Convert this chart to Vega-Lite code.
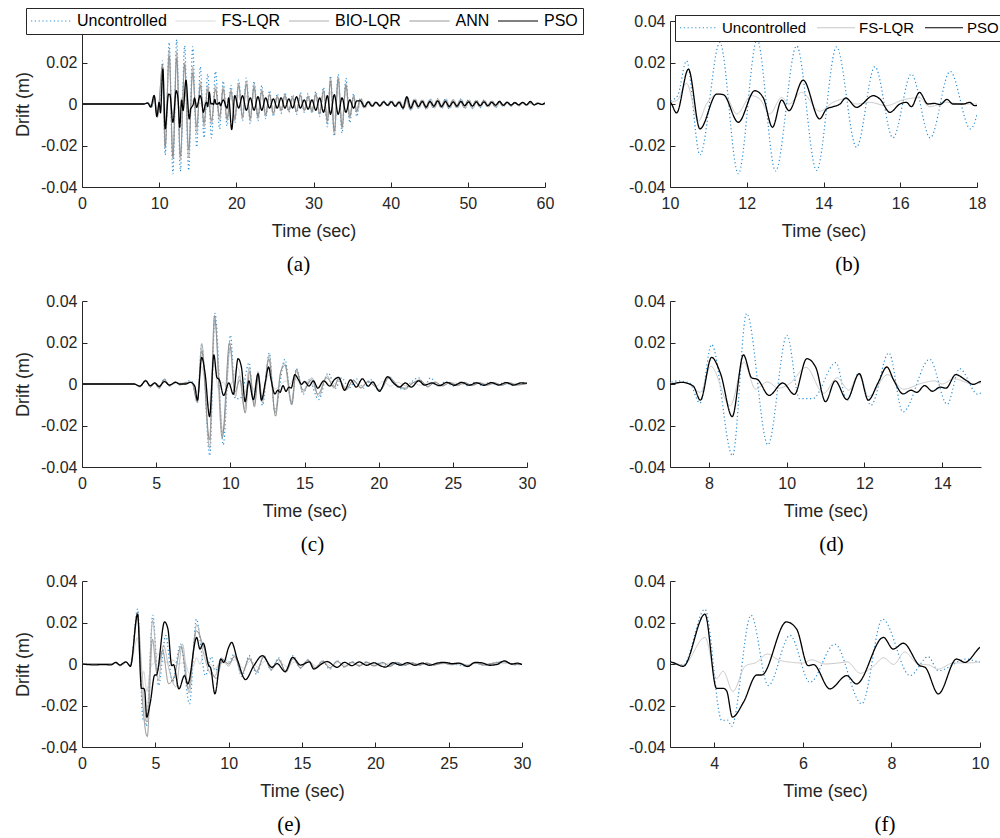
{
"$schema":"https://vega.github.io/schema/vega-lite/v6.json",
"background":"#ffffff",
"padding":{"left":14,"top":7,"right":2,"bottom":2},
"config":{
"view":{"stroke":null},
"font":"Liberation Sans",
"axis":{"grid":false,"domainColor":"#262626","tickColor":"#262626","labelColor":"#262626","titleColor":"#262626","labelFontSize":16,"titleFontSize":18,"titleFontWeight":"normal","tickSize":-5,"labelFont":"Liberation Sans","titleFont":"Liberation Sans","labelFlush":false,"labelOverlap":false},
"axisX":{"labelPadding":13,"titlePadding":11},
"axisY":{"labelPadding":10,"titlePadding":8},
"title":{"orient":"bottom","frame":"group","anchor":"middle","font":"Liberation Serif","fontSize":21,"fontWeight":"normal","color":"#000000","offset":14},
"line":{"interpolate":"monotone","strokeWidth":1},
"legend":{"labelFont":"Liberation Sans"}
},
"datasets":{
"a":[
{"s":"U","t":0,"d":0},{"s":"U","t":8,"d":0},{"s":"U","t":8.6,"d":0.0005},{"s":"U","t":9,"d":-0.0015},{"s":"U","t":9.4,"d":0.003},{"s":"U","t":9.75,"d":-0.006},{"s":"U","t":10,"d":0.001},{"s":"U","t":10.2,"d":0.004},{"s":"U","t":10.43,"d":0.0208},{"s":"U","t":10.78,"d":-0.0245},{"s":"U","t":11.3,"d":0.0296},{"s":"U","t":11.78,"d":-0.0336},{"s":"U","t":12.27,"d":0.031},{"s":"U","t":12.75,"d":-0.0323},{"s":"U","t":13.3,"d":0.028},{"s":"U","t":13.82,"d":-0.032},{"s":"U","t":14.34,"d":0.0275},{"s":"U","t":14.86,"d":-0.0208},{"s":"U","t":15.34,"d":0.018},{"s":"U","t":15.81,"d":-0.0163},{"s":"U","t":16.29,"d":0.0144},{"s":"U","t":16.78,"d":-0.0163},{"s":"U","t":17.3,"d":0.0157},{"s":"U","t":17.83,"d":-0.012},{"s":"U","t":18.3,"d":0.011},{"s":"U","t":18.8,"d":-0.0105},{"s":"U","t":19.3,"d":0.009},{"s":"U","t":19.8,"d":-0.009},{"s":"U","t":20.3,"d":0.0115},{"s":"U","t":20.8,"d":-0.008},{"s":"U","t":21.3,"d":0.0125},{"s":"U","t":21.8,"d":-0.0095},{"s":"U","t":22.3,"d":0.011},{"s":"U","t":22.8,"d":-0.008},{"s":"U","t":23.3,"d":0.009},{"s":"U","t":23.8,"d":-0.007},{"s":"U","t":24.3,"d":0.0065},{"s":"U","t":24.8,"d":-0.006},{"s":"U","t":25.3,"d":0.005},{"s":"U","t":25.8,"d":-0.0045},{"s":"U","t":26.3,"d":0.0055},{"s":"U","t":26.8,"d":-0.004},{"s":"U","t":27.3,"d":0.0045},{"s":"U","t":27.8,"d":-0.005},{"s":"U","t":28.3,"d":0.0055},{"s":"U","t":28.8,"d":-0.004},{"s":"U","t":29.3,"d":0.005},{"s":"U","t":29.8,"d":-0.0045},{"s":"U","t":30.3,"d":0.006},{"s":"U","t":30.8,"d":-0.006},{"s":"U","t":31.3,"d":0.008},{"s":"U","t":31.8,"d":-0.011},{"s":"U","t":32.2,"d":0.0135},{"s":"U","t":32.7,"d":-0.0155},{"s":"U","t":33.2,"d":0.0143},{"s":"U","t":33.7,"d":-0.014},{"s":"U","t":34.2,"d":0.0125},{"s":"U","t":34.7,"d":-0.009},{"s":"U","t":35.2,"d":0.005},{"s":"U","t":35.6,"d":-0.006},
{"s":"U","t":36.1,"d":0.003},{"s":"U","t":36.6,"d":-0.002},{"s":"U","t":37.1,"d":0.0015},{"s":"U","t":37.6,"d":-0.0015},{"s":"U","t":38.1,"d":0.0012},{"s":"U","t":38.6,"d":-0.0012},{"s":"U","t":39.1,"d":0.0015},{"s":"U","t":39.6,"d":-0.001},{"s":"U","t":40.1,"d":0.0018},{"s":"U","t":40.6,"d":-0.0015},{"s":"U","t":41.1,"d":0.0015},{"s":"U","t":41.6,"d":-0.0025},{"s":"U","t":42.1,"d":0.0035},{"s":"U","t":42.6,"d":-0.003},{"s":"U","t":43.1,"d":0.0025},{"s":"U","t":43.6,"d":-0.002},{"s":"U","t":44.1,"d":0.002},{"s":"U","t":44.6,"d":-0.0025},{"s":"U","t":45.1,"d":0.002},{"s":"U","t":45.6,"d":-0.002},{"s":"U","t":46.1,"d":0.0025},{"s":"U","t":46.6,"d":-0.002},{"s":"U","t":47.1,"d":0.0025},{"s":"U","t":47.6,"d":-0.0025},{"s":"U","t":48.1,"d":0.002},{"s":"U","t":48.6,"d":-0.002},{"s":"U","t":49.1,"d":0.0025},{"s":"U","t":49.6,"d":-0.002},{"s":"U","t":50.1,"d":0.0022},{"s":"U","t":50.6,"d":-0.0022},{"s":"U","t":51.1,"d":0.002},{"s":"U","t":51.6,"d":-0.0018},{"s":"U","t":52.1,"d":0.002},{"s":"U","t":52.6,"d":-0.0015},{"s":"U","t":53.1,"d":0.0018},{"s":"U","t":53.6,"d":-0.0018},{"s":"U","t":54.1,"d":0.0015},{"s":"U","t":54.6,"d":-0.0012},{"s":"U","t":55.1,"d":0.0012},{"s":"U","t":55.6,"d":-0.001},{"s":"U","t":56.1,"d":0.001},{"s":"U","t":56.6,"d":-0.0008},{"s":"U","t":57.1,"d":0.0008},{"s":"U","t":57.6,"d":-0.0006},{"s":"U","t":58.1,"d":0.0008},{"s":"U","t":58.6,"d":-0.0005},{"s":"U","t":59.1,"d":0.0006},{"s":"U","t":59.6,"d":-0.0004},{"s":"U","t":60,"d":0.0003},
{"s":"F","t":0,"d":0},{"s":"F","t":8,"d":0},{"s":"F","t":8.6,"d":0.0005},{"s":"F","t":9,"d":-0.001},{"s":"F","t":9.4,"d":0.002},{"s":"F","t":9.75,"d":-0.004},{"s":"F","t":10,"d":0.0005},{"s":"F","t":10.2,"d":0.002},{"s":"F","t":10.43,"d":0.01},{"s":"F","t":10.74,"d":-0.0083},{"s":"F","t":10.95,"d":0},{"s":"F","t":11.26,"d":0.0048},{"s":"F","t":11.48,"d":0.0032},{"s":"F","t":11.74,"d":-0.0048},{"s":"F","t":12.12,"d":0.004},{"s":"F","t":12.34,"d":0.0024},{"s":"F","t":12.6,"d":-0.0048},{"s":"F","t":12.91,"d":0.0032},{"s":"F","t":13.1,"d":0},{"s":"F","t":13.43,"d":0.0056},{"s":"F","t":13.9,"d":-0.0035},{"s":"F","t":14.25,"d":0.0008},{"s":"F","t":14.55,"d":0.0024},{"s":"F","t":14.86,"d":0},{"s":"F","t":15.2,"d":0.0008},{"s":"F","t":15.64,"d":-0.0008},{"s":"F","t":16.07,"d":0.002},{"s":"F","t":16.5,"d":0.003},{"s":"F","t":16.76,"d":-0.0013},{"s":"F","t":17.2,"d":0.0008},{"s":"F","t":17.6,"d":0},{"s":"F","t":18,"d":0},{"s":"F","t":18.3,"d":0.003},{"s":"F","t":18.8,"d":-0.003},{"s":"F","t":19.3,"d":0.003},{"s":"F","t":19.8,"d":-0.004},{"s":"F","t":20.3,"d":0.004},{"s":"F","t":20.8,"d":-0.003},{"s":"F","t":21.3,"d":0.004},{"s":"F","t":21.8,"d":-0.004},{"s":"F","t":22.3,"d":0.004},{"s":"F","t":22.8,"d":-0.003},{"s":"F","t":23.3,"d":0.003},{"s":"F","t":23.8,"d":-0.003},{"s":"F","t":24.3,"d":0.0025},{"s":"F","t":24.8,"d":-0.0025},{"s":"F","t":25.3,"d":0.002},{"s":"F","t":25.8,"d":-0.002},{"s":"F","t":26.3,"d":0.0025},{"s":"F","t":26.8,"d":-0.002},{"s":"F","t":27.3,"d":0.002},{"s":"F","t":27.8,"d":-0.0025},{"s":"F","t":28.3,"d":0.0025},{"s":"F","t":28.8,"d":-0.002},{"s":"F","t":29.3,"d":0.002},{"s":"F","t":29.8,"d":-0.002},{"s":"F","t":30.3,"d":0.0025},{"s":"F","t":30.8,"d":-0.003},{"s":"F","t":31.3,"d":0.004},{"s":"F","t":31.8,"d":-0.005},{"s":"F","t":32.2,"d":0.006},{"s":"F","t":32.7,"d":-0.007},{"s":"F","t":33.2,"d":0.006},{"s":"F","t":33.7,"d":-0.006},{"s":"F","t":34.2,"d":0.005},{"s":"F","t":34.7,"d":-0.004},{"s":"F","t":35.2,"d":0.002},{"s":"F","t":35.6,"d":-0.002},
{"s":"F","t":36.1,"d":0.0015},{"s":"F","t":36.6,"d":-0.0012},{"s":"F","t":37.1,"d":0.001},{"s":"F","t":37.6,"d":-0.001},{"s":"F","t":38.1,"d":0.0008},{"s":"F","t":38.6,"d":-0.0008},{"s":"F","t":39.1,"d":0.001},{"s":"F","t":39.6,"d":-0.0008},{"s":"F","t":40.1,"d":0.001},{"s":"F","t":40.6,"d":-0.001},{"s":"F","t":41.1,"d":0.001},{"s":"F","t":41.6,"d":-0.0012},{"s":"F","t":42.1,"d":0.0018},{"s":"F","t":42.6,"d":-0.0015},{"s":"F","t":43.1,"d":0.0012},{"s":"F","t":43.6,"d":-0.0012},{"s":"F","t":44.1,"d":0.0012},{"s":"F","t":44.6,"d":-0.0015},{"s":"F","t":45.1,"d":0.0012},{"s":"F","t":45.6,"d":-0.0012},{"s":"F","t":46.1,"d":0.0015},{"s":"F","t":46.6,"d":-0.0012},{"s":"F","t":47.1,"d":0.0015},{"s":"F","t":47.6,"d":-0.0015},{"s":"F","t":48.1,"d":0.0012},{"s":"F","t":48.6,"d":-0.0012},{"s":"F","t":49.1,"d":0.0015},{"s":"F","t":49.6,"d":-0.0012},{"s":"F","t":50.1,"d":0.0012},{"s":"F","t":50.6,"d":-0.0012},{"s":"F","t":51.1,"d":0.0012},{"s":"F","t":51.6,"d":-0.001},{"s":"F","t":52.1,"d":0.0012},{"s":"F","t":52.6,"d":-0.001},{"s":"F","t":53.1,"d":0.001},{"s":"F","t":53.6,"d":-0.001},{"s":"F","t":54.1,"d":0.001},{"s":"F","t":54.6,"d":-0.0008},{"s":"F","t":55.1,"d":0.0008},{"s":"F","t":55.6,"d":-0.0006},{"s":"F","t":56.1,"d":0.0006},{"s":"F","t":56.6,"d":-0.0005},{"s":"F","t":57.1,"d":0.0005},{"s":"F","t":57.6,"d":-0.0004},{"s":"F","t":58.1,"d":0.0005},{"s":"F","t":58.6,"d":-0.0003},{"s":"F","t":59.1,"d":0.0004},{"s":"F","t":59.6,"d":-0.0003},{"s":"F","t":60,"d":0.0003},
{"s":"B","t":0,"d":0},{"s":"B","t":8,"d":0},{"s":"B","t":8.6,"d":0.0005},{"s":"B","t":9,"d":-0.0015},{"s":"B","t":9.4,"d":0.003},{"s":"B","t":9.75,"d":-0.006},{"s":"B","t":10,"d":0.001},{"s":"B","t":10.43,"d":0.018},{"s":"B","t":10.78,"d":-0.02},{"s":"B","t":11.3,"d":0.026},{"s":"B","t":11.78,"d":-0.025},{"s":"B","t":12.27,"d":0.025},{"s":"B","t":12.75,"d":-0.027},{"s":"B","t":13.3,"d":0.02},{"s":"B","t":13.82,"d":-0.026},{"s":"B","t":14.34,"d":0.018},{"s":"B","t":14.86,"d":-0.014},{"s":"B","t":15.34,"d":0.011},{"s":"B","t":15.81,"d":-0.011},{"s":"B","t":16.29,"d":0.009},{"s":"B","t":16.78,"d":-0.01},{"s":"B","t":17.3,"d":0.009},{"s":"B","t":17.83,"d":-0.008},{"s":"B","t":18.3,"d":0.0085},{"s":"B","t":18.8,"d":-0.008},{"s":"B","t":19.3,"d":0.007},{"s":"B","t":19.8,"d":-0.008},{"s":"B","t":20.3,"d":0.01},{"s":"B","t":20.8,"d":-0.007},{"s":"B","t":21.3,"d":0.011},{"s":"B","t":21.8,"d":-0.008},{"s":"B","t":22.3,"d":0.0095},{"s":"B","t":22.8,"d":-0.007},{"s":"B","t":23.3,"d":0.007},{"s":"B","t":23.8,"d":-0.006},{"s":"B","t":24.3,"d":0.005},{"s":"B","t":24.8,"d":-0.005},{"s":"B","t":25.3,"d":0.004},{"s":"B","t":25.8,"d":-0.0035},{"s":"B","t":26.3,"d":0.0045},{"s":"B","t":26.8,"d":-0.0035},{"s":"B","t":27.3,"d":0.0035},{"s":"B","t":27.8,"d":-0.004},{"s":"B","t":28.3,"d":0.0045},{"s":"B","t":28.8,"d":-0.0035},{"s":"B","t":29.3,"d":0.004},{"s":"B","t":29.8,"d":-0.004},{"s":"B","t":30.3,"d":0.005},{"s":"B","t":30.8,"d":-0.005},{"s":"B","t":31.3,"d":0.007},{"s":"B","t":31.8,"d":-0.009},{"s":"B","t":32.2,"d":0.0125},{"s":"B","t":32.7,"d":-0.0145},{"s":"B","t":33.2,"d":0.013},{"s":"B","t":33.7,"d":-0.012},{"s":"B","t":34.2,"d":0.01},{"s":"B","t":34.7,"d":-0.007},{"s":"B","t":35.2,"d":0.004},{"s":"B","t":35.6,"d":-0.004},
{"s":"B","t":36.2,"d":0.0025},{"s":"B","t":36.7,"d":-0.002},{"s":"B","t":37.2,"d":0.0015},{"s":"B","t":37.7,"d":-0.0012},{"s":"B","t":38.2,"d":0.001},{"s":"B","t":38.7,"d":-0.0012},{"s":"B","t":39.2,"d":0.0012},{"s":"B","t":39.7,"d":-0.001},{"s":"B","t":40.2,"d":0.0015},{"s":"B","t":40.7,"d":-0.0015},{"s":"B","t":41.2,"d":0.0015},{"s":"B","t":41.7,"d":-0.002},{"s":"B","t":42.2,"d":0.003},{"s":"B","t":42.7,"d":-0.0028},{"s":"B","t":43.2,"d":0.0025},{"s":"B","t":43.7,"d":-0.002},{"s":"B","t":44.2,"d":0.002},{"s":"B","t":44.7,"d":-0.0025},{"s":"B","t":45.2,"d":0.0025},{"s":"B","t":45.7,"d":-0.002},{"s":"B","t":46.2,"d":0.0022},{"s":"B","t":46.7,"d":-0.002},{"s":"B","t":47.2,"d":0.0025},{"s":"B","t":47.7,"d":-0.002},{"s":"B","t":48.2,"d":0.002},{"s":"B","t":48.7,"d":-0.0018},{"s":"B","t":49.2,"d":0.0022},{"s":"B","t":49.7,"d":-0.002},{"s":"B","t":50.2,"d":0.002},{"s":"B","t":50.7,"d":-0.002},{"s":"B","t":51.2,"d":0.0018},{"s":"B","t":51.7,"d":-0.0015},{"s":"B","t":52.2,"d":0.0018},{"s":"B","t":52.7,"d":-0.0015},{"s":"B","t":53.2,"d":0.0015},{"s":"B","t":53.7,"d":-0.0015},{"s":"B","t":54.2,"d":0.0012},{"s":"B","t":54.7,"d":-0.001},{"s":"B","t":55.2,"d":0.001},{"s":"B","t":55.7,"d":-0.001},{"s":"B","t":56.2,"d":0.0008},{"s":"B","t":56.7,"d":-0.0008},{"s":"B","t":57.2,"d":0.0006},{"s":"B","t":57.7,"d":-0.0006},{"s":"B","t":58.2,"d":0.0006},{"s":"B","t":58.7,"d":-0.0005},{"s":"B","t":59.2,"d":0.0005},{"s":"B","t":59.7,"d":-0.0004},{"s":"B","t":60,"d":0.0003},
{"s":"N","t":0,"d":0},{"s":"N","t":8,"d":0},{"s":"N","t":8.6,"d":0.0005},{"s":"N","t":9,"d":-0.0015},{"s":"N","t":9.4,"d":0.0035},{"s":"N","t":9.75,"d":-0.0065},{"s":"N","t":10,"d":0.001},{"s":"N","t":10.43,"d":0.019},{"s":"N","t":10.78,"d":-0.021},{"s":"N","t":11.3,"d":0.023},{"s":"N","t":11.78,"d":-0.026},{"s":"N","t":12.27,"d":0.022},{"s":"N","t":12.75,"d":-0.025},{"s":"N","t":13.3,"d":0.019},{"s":"N","t":13.82,"d":-0.022},{"s":"N","t":14.34,"d":0.015},{"s":"N","t":14.86,"d":-0.011},{"s":"N","t":15.34,"d":0.009},{"s":"N","t":15.81,"d":-0.009},{"s":"N","t":16.29,"d":0.007},{"s":"N","t":16.78,"d":-0.008},{"s":"N","t":17.3,"d":0.007},{"s":"N","t":17.83,"d":-0.006},{"s":"N","t":18.3,"d":0.007},{"s":"N","t":18.8,"d":-0.007},{"s":"N","t":19.3,"d":0.006},{"s":"N","t":19.8,"d":-0.007},{"s":"N","t":20.3,"d":0.009},{"s":"N","t":20.8,"d":-0.006},{"s":"N","t":21.3,"d":0.0095},{"s":"N","t":21.8,"d":-0.007},{"s":"N","t":22.3,"d":0.008},{"s":"N","t":22.8,"d":-0.006},{"s":"N","t":23.3,"d":0.006},{"s":"N","t":23.8,"d":-0.005},{"s":"N","t":24.3,"d":0.0045},{"s":"N","t":24.8,"d":-0.0045},{"s":"N","t":25.3,"d":0.0035},{"s":"N","t":25.8,"d":-0.003},{"s":"N","t":26.3,"d":0.004},{"s":"N","t":26.8,"d":-0.003},{"s":"N","t":27.3,"d":0.003},{"s":"N","t":27.8,"d":-0.0035},{"s":"N","t":28.3,"d":0.004},{"s":"N","t":28.8,"d":-0.003},{"s":"N","t":29.3,"d":0.0035},{"s":"N","t":29.8,"d":-0.0035},{"s":"N","t":30.3,"d":0.0045},{"s":"N","t":30.8,"d":-0.0045},{"s":"N","t":31.3,"d":0.006},{"s":"N","t":31.8,"d":-0.008},{"s":"N","t":32.2,"d":0.011},{"s":"N","t":32.7,"d":-0.013},{"s":"N","t":33.2,"d":0.012},{"s":"N","t":33.7,"d":-0.011},{"s":"N","t":34.2,"d":0.009},{"s":"N","t":34.7,"d":-0.006},{"s":"N","t":35.2,"d":0.0035},{"s":"N","t":35.6,"d":-0.0035},
{"s":"N","t":36,"d":0.0022},{"s":"N","t":36.5,"d":-0.0018},{"s":"N","t":37,"d":0.0012},{"s":"N","t":37.5,"d":-0.0012},{"s":"N","t":38,"d":0.001},{"s":"N","t":38.5,"d":-0.001},{"s":"N","t":39,"d":0.0012},{"s":"N","t":39.5,"d":-0.0008},{"s":"N","t":40,"d":0.0014},{"s":"N","t":40.5,"d":-0.0012},{"s":"N","t":41,"d":0.0012},{"s":"N","t":41.5,"d":-0.0018},{"s":"N","t":42,"d":0.0028},{"s":"N","t":42.5,"d":-0.0025},{"s":"N","t":43,"d":0.002},{"s":"N","t":43.5,"d":-0.0018},{"s":"N","t":44,"d":0.0018},{"s":"N","t":44.5,"d":-0.002},{"s":"N","t":45,"d":0.0018},{"s":"N","t":45.5,"d":-0.0018},{"s":"N","t":46,"d":0.002},{"s":"N","t":46.5,"d":-0.0018},{"s":"N","t":47,"d":0.002},{"s":"N","t":47.5,"d":-0.002},{"s":"N","t":48,"d":0.0018},{"s":"N","t":48.5,"d":-0.0016},{"s":"N","t":49,"d":0.002},{"s":"N","t":49.5,"d":-0.0018},{"s":"N","t":50,"d":0.0018},{"s":"N","t":50.5,"d":-0.0018},{"s":"N","t":51,"d":0.0016},{"s":"N","t":51.5,"d":-0.0014},{"s":"N","t":52,"d":0.0016},{"s":"N","t":52.5,"d":-0.0012},{"s":"N","t":53,"d":0.0014},{"s":"N","t":53.5,"d":-0.0014},{"s":"N","t":54,"d":0.0012},{"s":"N","t":54.5,"d":-0.001},{"s":"N","t":55,"d":0.001},{"s":"N","t":55.5,"d":-0.0008},{"s":"N","t":56,"d":0.0008},{"s":"N","t":56.5,"d":-0.0006},{"s":"N","t":57,"d":0.0006},{"s":"N","t":57.5,"d":-0.0005},{"s":"N","t":58,"d":0.0006},{"s":"N","t":58.5,"d":-0.0004},{"s":"N","t":59,"d":0.0005},{"s":"N","t":59.5,"d":-0.0003},{"s":"N","t":60,"d":0.0003},
{"s":"P","t":0,"d":0},{"s":"P","t":8,"d":0},{"s":"P","t":8.5,"d":0.0005},{"s":"P","t":8.9,"d":-0.0015},{"s":"P","t":9.35,"d":0.0042},{"s":"P","t":9.7,"d":-0.006},{"s":"P","t":10,"d":0.0008},{"s":"P","t":10.17,"d":-0.0043},{"s":"P","t":10.48,"d":0.0168},{"s":"P","t":10.78,"d":-0.012},{"s":"P","t":11.22,"d":0.0048},{"s":"P","t":11.39,"d":0.0045},{"s":"P","t":11.78,"d":-0.0088},{"s":"P","t":12.21,"d":0.0064},{"s":"P","t":12.43,"d":0.003},{"s":"P","t":12.67,"d":-0.0112},{"s":"P","t":12.91,"d":0.0019},{"s":"P","t":13.1,"d":-0.0032},{"s":"P","t":13.47,"d":0.0115},{"s":"P","t":13.9,"d":-0.0072},{"s":"P","t":14.08,"d":-0.0024},{"s":"P","t":14.25,"d":-0.0013},{"s":"P","t":14.43,"d":0},{"s":"P","t":14.58,"d":0.0029},{"s":"P","t":14.86,"d":-0.0016},{"s":"P","t":15.3,"d":0.004},{"s":"P","t":15.47,"d":0.0024},{"s":"P","t":15.73,"d":-0.004},{"s":"P","t":15.99,"d":0},{"s":"P","t":16.16,"d":0.0008},{"s":"P","t":16.29,"d":-0.0013},{"s":"P","t":16.5,"d":0.0056},{"s":"P","t":16.72,"d":0},{"s":"P","t":16.9,"d":0.0003},{"s":"P","t":17.03,"d":-0.0003},{"s":"P","t":17.22,"d":0.0022},{"s":"P","t":17.37,"d":0},{"s":"P","t":17.64,"d":0},{"s":"P","t":17.81,"d":0.0008},{"s":"P","t":17.94,"d":-0.0008},{"s":"P","t":18.3,"d":0.002},{"s":"P","t":18.8,"d":-0.002},{"s":"P","t":19,"d":0.003},{"s":"P","t":19.4,"d":-0.0123},{"s":"P","t":19.8,"d":0.004},{"s":"P","t":20.3,"d":-0.002},{"s":"P","t":20.8,"d":0.004},{"s":"P","t":21.3,"d":-0.003},{"s":"P","t":21.8,"d":0.003},{"s":"P","t":22.3,"d":-0.003},{"s":"P","t":22.8,"d":0.0035},{"s":"P","t":23.3,"d":-0.003},{"s":"P","t":23.8,"d":0.003},{"s":"P","t":24.3,"d":-0.002},{"s":"P","t":24.8,"d":0.0025},{"s":"P","t":25.3,"d":-0.002},{"s":"P","t":25.8,"d":0.003},{"s":"P","t":26.3,"d":-0.002},{"s":"P","t":26.8,"d":0.0025},{"s":"P","t":27.3,"d":-0.002},{"s":"P","t":27.8,"d":0.0035},{"s":"P","t":28.3,"d":-0.002},{"s":"P","t":28.8,"d":0.002},{"s":"P","t":29.3,"d":-0.0025},{"s":"P","t":29.8,"d":0.002},{"s":"P","t":30.3,"d":-0.003},{"s":"P","t":30.8,"d":0.003},{"s":"P","t":31.3,"d":-0.004},{"s":"P","t":31.8,"d":0.004},{"s":"P","t":32.2,"d":-0.005},{"s":"P","t":32.7,"d":0.0045},{"s":"P","t":33.2,"d":-0.005},{"s":"P","t":33.7,"d":0.003},{"s":"P","t":34.2,"d":-0.004},{"s":"P","t":34.7,"d":0.002},{"s":"P","t":35.2,"d":-0.002},{"s":"P","t":35.6,"d":0.0015},
{"s":"P","t":36.1,"d":0.0015},{"s":"P","t":36.6,"d":-0.0012},{"s":"P","t":37.1,"d":0.001},{"s":"P","t":37.6,"d":-0.001},{"s":"P","t":38.1,"d":0.0008},{"s":"P","t":38.6,"d":-0.0008},{"s":"P","t":39.1,"d":0.001},{"s":"P","t":39.6,"d":-0.0006},{"s":"P","t":40.1,"d":0.001},{"s":"P","t":40.6,"d":-0.001},{"s":"P","t":41.1,"d":0.0008},{"s":"P","t":41.6,"d":-0.002},{"s":"P","t":42.1,"d":0.0035},{"s":"P","t":42.6,"d":-0.002},{"s":"P","t":43.1,"d":0.0015},{"s":"P","t":43.6,"d":-0.0012},{"s":"P","t":44.1,"d":0.0012},{"s":"P","t":44.6,"d":-0.0015},{"s":"P","t":45.1,"d":0.0012},{"s":"P","t":45.6,"d":-0.001},{"s":"P","t":46.1,"d":0.0015},{"s":"P","t":46.6,"d":-0.0012},{"s":"P","t":47.1,"d":0.0012},{"s":"P","t":47.6,"d":-0.0012},{"s":"P","t":48.1,"d":0.001},{"s":"P","t":48.6,"d":-0.001},{"s":"P","t":49.1,"d":0.0012},{"s":"P","t":49.6,"d":-0.0008},{"s":"P","t":50.1,"d":0.001},{"s":"P","t":50.6,"d":-0.001},{"s":"P","t":51.1,"d":0.001},{"s":"P","t":51.6,"d":-0.0008},{"s":"P","t":52.1,"d":0.001},{"s":"P","t":52.6,"d":-0.0008},{"s":"P","t":53.1,"d":0.0008},{"s":"P","t":53.6,"d":-0.0006},{"s":"P","t":54.1,"d":0.0012},{"s":"P","t":54.6,"d":-0.0006},{"s":"P","t":55.1,"d":0.0008},{"s":"P","t":55.6,"d":-0.0005},{"s":"P","t":56.1,"d":0.0006},{"s":"P","t":56.6,"d":-0.0004},{"s":"P","t":57.1,"d":0.0008},{"s":"P","t":57.6,"d":-0.0004},{"s":"P","t":58.1,"d":0.0012},{"s":"P","t":58.6,"d":-0.0004},{"s":"P","t":59.1,"d":0.0003},{"s":"P","t":59.6,"d":-0.0002},{"s":"P","t":60,"d":0.0006}
],
"c":[
{"s":"U","t":0,"d":0},{"s":"U","t":3.5,"d":0},{"s":"U","t":3.9,"d":-0.001},{"s":"U","t":4.3,"d":0.0018},{"s":"U","t":4.6,"d":-0.0012},{"s":"U","t":4.9,"d":0.0005},{"s":"U","t":5.2,"d":-0.002},{"s":"U","t":5.55,"d":0.0025},{"s":"U","t":5.9,"d":-0.001},{"s":"U","t":6.3,"d":0.001},{"s":"U","t":6.6,"d":-0.0005},{"s":"U","t":7,"d":0.0008},{"s":"U","t":7.2,"d":0.0015},{"s":"U","t":7.5,"d":0.0005},{"s":"U","t":7.77,"d":-0.0092},{"s":"U","t":8.07,"d":0.019},{"s":"U","t":8.61,"d":-0.0345},{"s":"U","t":8.97,"d":0.034},{"s":"U","t":9.52,"d":-0.0293},{"s":"U","t":10.01,"d":0.0235},{"s":"U","t":10.33,"d":-0.007},{"s":"U","t":10.67,"d":-0.007},{"s":"U","t":11.27,"d":0.0103},{"s":"U","t":11.55,"d":-0.008},{"s":"U","t":11.85,"d":0.005},{"s":"U","t":12.17,"d":-0.0103},{"s":"U","t":12.63,"d":0.015},{"s":"U","t":12.99,"d":-0.0135},{"s":"U","t":13.68,"d":0.0119},{"s":"U","t":14.13,"d":-0.0098},{"s":"U","t":14.45,"d":0.0074},{"s":"U","t":14.92,"d":-0.005},{"s":"U","t":15.3,"d":0.002},{"s":"U","t":15.95,"d":-0.0075},{"s":"U","t":16.6,"d":0.0053},{"s":"U","t":17.1,"d":-0.002},{"s":"U","t":17.5,"d":0.003},{"s":"U","t":18,"d":-0.002},{"s":"U","t":18.5,"d":0.0025},{"s":"U","t":19,"d":-0.002},{"s":"U","t":19.5,"d":0.002},{"s":"U","t":20.05,"d":-0.0035},{"s":"U","t":20.7,"d":0.0035},{"s":"U","t":21.2,"d":-0.001},{"s":"U","t":21.7,"d":-0.0025},{"s":"U","t":22.2,"d":0.001},{"s":"U","t":22.7,"d":0.003},{"s":"U","t":23.1,"d":-0.001},{"s":"U","t":23.5,"d":0.003},{"s":"U","t":24,"d":-0.001},{"s":"U","t":24.5,"d":0.001},{"s":"U","t":25,"d":-0.001},{"s":"U","t":25.5,"d":0.0008},{"s":"U","t":26,"d":-0.0008},{"s":"U","t":26.5,"d":0.0008},{"s":"U","t":27,"d":-0.0008},{"s":"U","t":27.5,"d":0.0008},{"s":"U","t":28,"d":-0.0006},{"s":"U","t":28.5,"d":0.0008},{"s":"U","t":29,"d":-0.0006},{"s":"U","t":29.5,"d":0.0005},{"s":"U","t":30,"d":0.0003},
{"s":"F","t":0,"d":0},{"s":"F","t":3.5,"d":0},{"s":"F","t":3.9,"d":-0.0008},{"s":"F","t":4.3,"d":0.0012},{"s":"F","t":4.6,"d":-0.0008},{"s":"F","t":5,"d":0.0003},{"s":"F","t":5.3,"d":-0.001},{"s":"F","t":5.6,"d":0.0012},{"s":"F","t":6,"d":-0.0005},{"s":"F","t":6.4,"d":0.0005},{"s":"F","t":7,"d":0.0005},{"s":"F","t":7.4,"d":0.0008},{"s":"F","t":7.78,"d":-0.004},{"s":"F","t":8.05,"d":0.0085},{"s":"F","t":8.55,"d":-0.0105},{"s":"F","t":8.9,"d":0.0105},{"s":"F","t":9.2,"d":-0.0025},{"s":"F","t":9.5,"d":0.001},{"s":"F","t":9.8,"d":-0.002},{"s":"F","t":10.1,"d":0.0005},{"s":"F","t":10.5,"d":0.008},{"s":"F","t":10.95,"d":-0.0045},{"s":"F","t":11.3,"d":0.003},{"s":"F","t":11.6,"d":-0.003},{"s":"F","t":11.85,"d":0.0045},{"s":"F","t":12.1,"d":-0.006},{"s":"F","t":12.6,"d":0.0045},{"s":"F","t":13,"d":-0.0025},{"s":"F","t":13.5,"d":0.0005},{"s":"F","t":13.8,"d":0.0015},{"s":"F","t":14,"d":0},{"s":"F","t":14.3,"d":0.0025},{"s":"F","t":14.8,"d":0},{"s":"F","t":15.3,"d":0.0015},{"s":"F","t":15.8,"d":-0.0025},{"s":"F","t":16.3,"d":0.002},{"s":"F","t":16.8,"d":-0.001},{"s":"F","t":17.3,"d":0.0015},{"s":"F","t":17.8,"d":-0.0015},{"s":"F","t":18.3,"d":0.001},{"s":"F","t":18.8,"d":-0.001},{"s":"F","t":19.3,"d":0.001},{"s":"F","t":19.8,"d":-0.0012},{"s":"F","t":20.3,"d":0.0012},{"s":"F","t":20.8,"d":-0.001},{"s":"F","t":21.3,"d":0.0008},{"s":"F","t":21.8,"d":-0.0008},{"s":"F","t":22.3,"d":0.0008},{"s":"F","t":22.8,"d":-0.0006},{"s":"F","t":23.3,"d":0.0006},{"s":"F","t":24,"d":-0.0005},{"s":"F","t":25,"d":0.0005},{"s":"F","t":26,"d":-0.0004},{"s":"F","t":27,"d":0.0004},{"s":"F","t":28,"d":-0.0003},{"s":"F","t":29,"d":0.0003},{"s":"F","t":30,"d":0.0002},
{"s":"B","t":0,"d":0},{"s":"B","t":3.5,"d":0},{"s":"B","t":3.9,"d":-0.0015},{"s":"B","t":4.3,"d":0.002},{"s":"B","t":4.6,"d":-0.0015},{"s":"B","t":4.9,"d":0.0005},{"s":"B","t":5.2,"d":-0.0022},{"s":"B","t":5.55,"d":0.0025},{"s":"B","t":5.9,"d":-0.001},{"s":"B","t":6.3,"d":0.0012},{"s":"B","t":6.6,"d":-0.0005},{"s":"B","t":7,"d":0.0008},{"s":"B","t":7.4,"d":0.0008},{"s":"B","t":7.78,"d":-0.009},{"s":"B","t":8.07,"d":0.0195},{"s":"B","t":8.6,"d":-0.031},{"s":"B","t":8.95,"d":0.031},{"s":"B","t":9.5,"d":-0.024},{"s":"B","t":10,"d":0.018},{"s":"B","t":10.35,"d":-0.006},{"s":"B","t":10.6,"d":0.004},{"s":"B","t":10.95,"d":-0.012},{"s":"B","t":11.27,"d":0.008},{"s":"B","t":11.6,"d":-0.01},{"s":"B","t":11.87,"d":0.006},{"s":"B","t":12.15,"d":-0.009},{"s":"B","t":12.62,"d":0.014},{"s":"B","t":13.02,"d":-0.014},{"s":"B","t":13.35,"d":0.004},{"s":"B","t":13.65,"d":0.01},{"s":"B","t":14.1,"d":-0.009},{"s":"B","t":14.45,"d":0.006},{"s":"B","t":14.9,"d":-0.004},{"s":"B","t":15.5,"d":0.003},{"s":"B","t":15.95,"d":-0.006},{"s":"B","t":16.5,"d":0.004},{"s":"B","t":17,"d":-0.002},{"s":"B","t":17.3,"d":0.003},{"s":"B","t":17.8,"d":-0.003},{"s":"B","t":18.3,"d":0.002},{"s":"B","t":18.8,"d":-0.002},{"s":"B","t":19.3,"d":0.0015},{"s":"B","t":19.7,"d":-0.001},{"s":"B","t":20.1,"d":-0.003},{"s":"B","t":20.7,"d":0.0035},{"s":"B","t":21.3,"d":-0.001},{"s":"B","t":21.8,"d":-0.0025},{"s":"B","t":22.3,"d":0.0005},{"s":"B","t":22.8,"d":0.002},{"s":"B","t":23.3,"d":-0.0015},{"s":"B","t":23.8,"d":0.001},{"s":"B","t":24.3,"d":-0.001},{"s":"B","t":24.8,"d":0.0008},{"s":"B","t":25.3,"d":-0.0008},{"s":"B","t":25.8,"d":0.0008},{"s":"B","t":26.3,"d":-0.0008},{"s":"B","t":26.8,"d":0.0006},{"s":"B","t":27.3,"d":-0.0006},{"s":"B","t":27.8,"d":0.0006},{"s":"B","t":28.3,"d":-0.0006},{"s":"B","t":28.8,"d":0.0006},{"s":"B","t":29.3,"d":-0.0005},{"s":"B","t":30,"d":0.0003},
{"s":"N","t":0,"d":0},{"s":"N","t":3.5,"d":0},{"s":"N","t":3.9,"d":-0.0012},{"s":"N","t":4.3,"d":0.0018},{"s":"N","t":4.6,"d":-0.0015},{"s":"N","t":4.9,"d":0.0004},{"s":"N","t":5.2,"d":-0.0018},{"s":"N","t":5.55,"d":0.002},{"s":"N","t":5.9,"d":-0.0008},{"s":"N","t":6.3,"d":0.001},{"s":"N","t":6.6,"d":-0.0004},{"s":"N","t":7,"d":0.0006},{"s":"N","t":7.4,"d":0.0008},{"s":"N","t":7.78,"d":-0.0085},{"s":"N","t":8.07,"d":0.016},{"s":"N","t":8.6,"d":-0.027},{"s":"N","t":8.93,"d":0.033},{"s":"N","t":9.45,"d":-0.026},{"s":"N","t":9.95,"d":0.02},{"s":"N","t":10.3,"d":-0.004},{"s":"N","t":10.65,"d":0.002},{"s":"N","t":11,"d":-0.014},{"s":"N","t":11.3,"d":0.006},{"s":"N","t":11.62,"d":-0.011},{"s":"N","t":11.9,"d":0.004},{"s":"N","t":12.15,"d":-0.007},{"s":"N","t":12.6,"d":0.012},{"s":"N","t":13.05,"d":-0.0155},{"s":"N","t":13.4,"d":0.006},{"s":"N","t":13.7,"d":0.009},{"s":"N","t":14.15,"d":-0.01},{"s":"N","t":14.45,"d":0.007},{"s":"N","t":14.9,"d":-0.003},{"s":"N","t":15.5,"d":0.002},{"s":"N","t":15.9,"d":-0.005},{"s":"N","t":16.5,"d":0.003},{"s":"N","t":17,"d":-0.0015},{"s":"N","t":17.3,"d":0.0025},{"s":"N","t":17.8,"d":-0.0025},{"s":"N","t":18.3,"d":0.0018},{"s":"N","t":18.8,"d":-0.0018},{"s":"N","t":19.3,"d":0.0012},{"s":"N","t":19.7,"d":-0.0008},{"s":"N","t":20.1,"d":-0.0028},{"s":"N","t":20.7,"d":0.003},{"s":"N","t":21.3,"d":-0.0008},{"s":"N","t":21.8,"d":-0.002},{"s":"N","t":22.3,"d":0.0005},{"s":"N","t":22.8,"d":0.0018},{"s":"N","t":23.3,"d":-0.0012},{"s":"N","t":23.8,"d":0.0008},{"s":"N","t":24.3,"d":-0.0008},{"s":"N","t":24.8,"d":0.0006},{"s":"N","t":25.3,"d":-0.0006},{"s":"N","t":25.8,"d":0.0006},{"s":"N","t":26.3,"d":-0.0006},{"s":"N","t":26.8,"d":0.0005},{"s":"N","t":27.3,"d":-0.0005},{"s":"N","t":27.8,"d":0.0005},{"s":"N","t":28.3,"d":-0.0005},{"s":"N","t":28.8,"d":0.0005},{"s":"N","t":29.3,"d":-0.0004},{"s":"N","t":30,"d":0.0002},
{"s":"P","t":0,"d":0},{"s":"P","t":3.5,"d":0},{"s":"P","t":3.9,"d":-0.001},{"s":"P","t":4.3,"d":0.0015},{"s":"P","t":4.6,"d":-0.0008},{"s":"P","t":4.9,"d":0.0005},{"s":"P","t":5.2,"d":-0.0012},{"s":"P","t":5.55,"d":0.0012},{"s":"P","t":5.9,"d":-0.0005},{"s":"P","t":6.3,"d":0.0008},{"s":"P","t":6.6,"d":0},{"s":"P","t":7,"d":0},{"s":"P","t":7.3,"d":0.0008},{"s":"P","t":7.6,"d":-0.001},{"s":"P","t":7.78,"d":-0.0078},{"s":"P","t":8.07,"d":0.0128},{"s":"P","t":8.3,"d":0.005},{"s":"P","t":8.6,"d":-0.0157},{"s":"P","t":8.89,"d":0.014},{"s":"P","t":9.1,"d":0.003},{"s":"P","t":9.25,"d":0.0022},{"s":"P","t":9.55,"d":-0.0055},{"s":"P","t":9.9,"d":0.0005},{"s":"P","t":10.2,"d":-0.005},{"s":"P","t":10.52,"d":0.0122},{"s":"P","t":10.75,"d":0.008},{"s":"P","t":11,"d":-0.0085},{"s":"P","t":11.25,"d":0.0015},{"s":"P","t":11.55,"d":-0.0075},{"s":"P","t":11.87,"d":0.005},{"s":"P","t":12.1,"d":-0.0078},{"s":"P","t":12.35,"d":0.0005},{"s":"P","t":12.58,"d":0.0082},{"s":"P","t":12.75,"d":0.002},{"s":"P","t":13,"d":-0.0048},{"s":"P","t":13.2,"d":-0.003},{"s":"P","t":13.35,"d":-0.004},{"s":"P","t":13.55,"d":-0.0008},{"s":"P","t":13.75,"d":-0.0035},{"s":"P","t":13.95,"d":-0.0015},{"s":"P","t":14.1,"d":-0.002},{"s":"P","t":14.35,"d":0.0045},{"s":"P","t":14.6,"d":0.002},{"s":"P","t":14.8,"d":-0.0002},{"s":"P","t":15,"d":0.0012},{"s":"P","t":15.3,"d":-0.001},{"s":"P","t":15.6,"d":0.0015},{"s":"P","t":15.9,"d":-0.002},{"s":"P","t":16.3,"d":0.0015},{"s":"P","t":16.7,"d":-0.001},{"s":"P","t":17,"d":0.002},{"s":"P","t":17.3,"d":0.0032},{"s":"P","t":17.7,"d":-0.003},{"s":"P","t":18.1,"d":0.002},{"s":"P","t":18.5,"d":-0.0015},{"s":"P","t":18.9,"d":0.0025},{"s":"P","t":19.3,"d":-0.001},{"s":"P","t":19.6,"d":0.001},{"s":"P","t":20.05,"d":-0.0035},{"s":"P","t":20.6,"d":0.0035},{"s":"P","t":21,"d":0.0005},{"s":"P","t":21.4,"d":-0.0015},{"s":"P","t":21.8,"d":0.0005},{"s":"P","t":22.2,"d":-0.0015},{"s":"P","t":22.7,"d":0.0015},{"s":"P","t":23.1,"d":-0.0005},{"s":"P","t":23.6,"d":0.0005},{"s":"P","t":24.1,"d":-0.0008},{"s":"P","t":24.6,"d":0.0008},{"s":"P","t":25.1,"d":-0.0006},{"s":"P","t":25.6,"d":0.0008},{"s":"P","t":26.1,"d":-0.0006},{"s":"P","t":26.6,"d":0.0006},{"s":"P","t":27.1,"d":-0.0006},{"s":"P","t":27.6,"d":0.0007},{"s":"P","t":28.1,"d":-0.0005},{"s":"P","t":28.6,"d":0.0007},{"s":"P","t":29.1,"d":-0.0005},{"s":"P","t":29.6,"d":0.0005},{"s":"P","t":30,"d":0.0004}
],
"e":[
{"s":"U","t":0,"d":0},{"s":"U","t":2,"d":0},{"s":"U","t":2.3,"d":0.0005},{"s":"U","t":2.6,"d":-0.0008},{"s":"U","t":3,"d":0.0008},{"s":"U","t":3.3,"d":-0.0005},{"s":"U","t":3.79,"d":0.0264},{"s":"U","t":4.17,"d":-0.0272},{"s":"U","t":4.3,"d":-0.027},{"s":"U","t":4.39,"d":-0.03},{"s":"U","t":4.83,"d":0.0235},{"s":"U","t":5.22,"d":-0.0104},{"s":"U","t":5.71,"d":0.0138},{"s":"U","t":6.16,"d":-0.0088},{"s":"U","t":6.72,"d":0.0096},{"s":"U","t":7.33,"d":-0.0192},{"s":"U","t":7.8,"d":0.0216},{"s":"U","t":8.42,"d":-0.0056},{"s":"U","t":8.83,"d":0.0035},{"s":"U","t":9.06,"d":-0.0032},{"s":"U","t":9.7,"d":0.0024},{"s":"U","t":10,"d":0.001},{"s":"U","t":10.4,"d":0.005},{"s":"U","t":10.9,"d":-0.006},{"s":"U","t":11.4,"d":0.004},{"s":"U","t":11.9,"d":-0.005},{"s":"U","t":12.4,"d":0.004},{"s":"U","t":12.9,"d":-0.003},{"s":"U","t":13.4,"d":0.003},{"s":"U","t":13.9,"d":-0.004},{"s":"U","t":14.4,"d":0.004},{"s":"U","t":14.9,"d":-0.002},{"s":"U","t":15.4,"d":0.002},{"s":"U","t":15.9,"d":-0.002},{"s":"U","t":16.4,"d":0.0015},{"s":"U","t":16.9,"d":-0.0025},{"s":"U","t":17.4,"d":0.0015},{"s":"U","t":17.9,"d":-0.0015},{"s":"U","t":18.4,"d":0.0012},{"s":"U","t":18.9,"d":-0.001},{"s":"U","t":19.4,"d":0.001},{"s":"U","t":19.9,"d":-0.001},{"s":"U","t":20.4,"d":0.0008},{"s":"U","t":20.9,"d":-0.0012},{"s":"U","t":21.4,"d":0.0008},{"s":"U","t":21.9,"d":-0.0008},{"s":"U","t":22.4,"d":0.0006},{"s":"U","t":22.9,"d":-0.0006},{"s":"U","t":23.4,"d":0.0006},{"s":"U","t":23.9,"d":-0.0006},{"s":"U","t":24.4,"d":0.0005},{"s":"U","t":25,"d":0.0006},{"s":"U","t":25.6,"d":-0.0004},{"s":"U","t":26.3,"d":-0.001},{"s":"U","t":26.8,"d":0.0006},{"s":"U","t":27.4,"d":-0.0006},{"s":"U","t":28,"d":0.0004},{"s":"U","t":28.8,"d":0.0012},{"s":"U","t":29.4,"d":-0.0004},{"s":"U","t":30,"d":-0.0002},
{"s":"F","t":0,"d":0},{"s":"F","t":2,"d":0},{"s":"F","t":2.3,"d":0.0004},{"s":"F","t":2.6,"d":-0.0005},{"s":"F","t":3,"d":0.0008},{"s":"F","t":3.3,"d":-0.0005},{"s":"F","t":3.79,"d":0.0128},{"s":"F","t":4.05,"d":-0.007},{"s":"F","t":4.2,"d":-0.0035},{"s":"F","t":4.42,"d":-0.0132},{"s":"F","t":4.7,"d":-0.001},{"s":"F","t":4.95,"d":0.0008},{"s":"F","t":5.2,"d":0.0048},{"s":"F","t":5.45,"d":0.002},{"s":"F","t":5.75,"d":0.0008},{"s":"F","t":6,"d":0.0005},{"s":"F","t":6.2,"d":0.002},{"s":"F","t":6.5,"d":0},{"s":"F","t":6.8,"d":0.0005},{"s":"F","t":7,"d":0.001},{"s":"F","t":7.3,"d":-0.0045},{"s":"F","t":7.6,"d":-0.001},{"s":"F","t":7.82,"d":0.003},{"s":"F","t":8.05,"d":-0.0002},{"s":"F","t":8.3,"d":0.0058},{"s":"F","t":8.6,"d":0},{"s":"F","t":8.85,"d":-0.0005},{"s":"F","t":9.05,"d":-0.0025},{"s":"F","t":9.4,"d":0.0005},{"s":"F","t":9.7,"d":0.0005},{"s":"F","t":10,"d":0.001},{"s":"F","t":10.5,"d":0.002},{"s":"F","t":11,"d":-0.002},{"s":"F","t":11.5,"d":0.0015},{"s":"F","t":12,"d":-0.0015},{"s":"F","t":12.5,"d":0.0015},{"s":"F","t":13,"d":-0.0012},{"s":"F","t":13.5,"d":0.001},{"s":"F","t":14,"d":-0.0015},{"s":"F","t":14.5,"d":0.001},{"s":"F","t":15,"d":-0.001},{"s":"F","t":15.5,"d":0.001},{"s":"F","t":16,"d":-0.001},{"s":"F","t":16.5,"d":0.0008},{"s":"F","t":17,"d":-0.001},{"s":"F","t":17.5,"d":0.0008},{"s":"F","t":18,"d":-0.0006},{"s":"F","t":18.5,"d":0.0005},{"s":"F","t":19,"d":-0.0006},{"s":"F","t":19.5,"d":0.0005},{"s":"F","t":20,"d":-0.0005},{"s":"F","t":21,"d":0.0004},{"s":"F","t":22,"d":-0.0004},{"s":"F","t":23,"d":0.0003},{"s":"F","t":24,"d":-0.0003},{"s":"F","t":25,"d":0.0003},{"s":"F","t":26,"d":-0.0004},{"s":"F","t":27,"d":0.0003},{"s":"F","t":28,"d":-0.0002},{"s":"F","t":29,"d":0.0003},{"s":"F","t":30,"d":0.0001},
{"s":"B","t":0,"d":0},{"s":"B","t":2,"d":0},{"s":"B","t":2.3,"d":0.0005},{"s":"B","t":2.6,"d":-0.0008},{"s":"B","t":3,"d":0.0008},{"s":"B","t":3.3,"d":-0.0008},{"s":"B","t":3.79,"d":0.022},{"s":"B","t":4.1,"d":-0.005},{"s":"B","t":4.4,"d":-0.028},{"s":"B","t":4.82,"d":0.021},{"s":"B","t":5.2,"d":-0.008},{"s":"B","t":5.55,"d":0.009},{"s":"B","t":5.95,"d":-0.003},{"s":"B","t":6.4,"d":-0.011},{"s":"B","t":6.85,"d":0.0095},{"s":"B","t":7.3,"d":-0.014},{"s":"B","t":7.82,"d":0.019},{"s":"B","t":8.25,"d":0.006},{"s":"B","t":8.7,"d":-0.004},{"s":"B","t":9.05,"d":-0.006},{"s":"B","t":9.5,"d":0.003},{"s":"B","t":10,"d":-0.001},{"s":"B","t":10.4,"d":0.004},{"s":"B","t":10.9,"d":-0.005},{"s":"B","t":11.4,"d":0.003},{"s":"B","t":11.9,"d":-0.004},{"s":"B","t":12.4,"d":0.004},{"s":"B","t":12.9,"d":-0.003},{"s":"B","t":13.4,"d":0.0025},{"s":"B","t":13.9,"d":-0.004},{"s":"B","t":14.4,"d":0.003},{"s":"B","t":14.9,"d":-0.002},{"s":"B","t":15.4,"d":0.002},{"s":"B","t":15.9,"d":-0.002},{"s":"B","t":16.4,"d":0.0015},{"s":"B","t":16.9,"d":-0.002},{"s":"B","t":17.4,"d":0.0015},{"s":"B","t":17.9,"d":-0.0015},{"s":"B","t":18.4,"d":0.001},{"s":"B","t":18.9,"d":-0.001},{"s":"B","t":19.4,"d":0.001},{"s":"B","t":19.9,"d":-0.001},{"s":"B","t":20.5,"d":0.0008},{"s":"B","t":21,"d":-0.0012},{"s":"B","t":21.5,"d":0.0008},{"s":"B","t":22,"d":-0.0006},{"s":"B","t":22.5,"d":0.0006},{"s":"B","t":23,"d":-0.0006},{"s":"B","t":23.5,"d":0.0005},{"s":"B","t":24,"d":-0.0005},{"s":"B","t":24.6,"d":0.0005},{"s":"B","t":25.2,"d":-0.0004},{"s":"B","t":25.8,"d":0.0004},{"s":"B","t":26.3,"d":-0.0009},{"s":"B","t":26.8,"d":0.0005},{"s":"B","t":27.4,"d":-0.0005},{"s":"B","t":28,"d":0.0003},{"s":"B","t":28.8,"d":0.0012},{"s":"B","t":29.4,"d":-0.0003},{"s":"B","t":30,"d":0},
{"s":"N","t":0,"d":0},{"s":"N","t":2,"d":0},{"s":"N","t":2.3,"d":0.0006},{"s":"N","t":2.6,"d":-0.0008},{"s":"N","t":3,"d":0.0008},{"s":"N","t":3.3,"d":-0.001},{"s":"N","t":3.79,"d":0.025},{"s":"N","t":4.05,"d":-0.01},{"s":"N","t":4.45,"d":-0.035},{"s":"N","t":4.8,"d":0.012},{"s":"N","t":5.1,"d":-0.004},{"s":"N","t":5.5,"d":0.0065},{"s":"N","t":5.9,"d":-0.0095},{"s":"N","t":6.3,"d":-0.006},{"s":"N","t":6.75,"d":0.0085},{"s":"N","t":7.25,"d":-0.012},{"s":"N","t":7.8,"d":0.016},{"s":"N","t":8.3,"d":0.008},{"s":"N","t":8.8,"d":-0.003},{"s":"N","t":9.15,"d":-0.007},{"s":"N","t":9.6,"d":0.002},{"s":"N","t":10,"d":0},{"s":"N","t":10.4,"d":0.0035},{"s":"N","t":10.9,"d":-0.0045},{"s":"N","t":11.4,"d":0.0025},{"s":"N","t":11.9,"d":-0.0035},{"s":"N","t":12.4,"d":0.0035},{"s":"N","t":12.9,"d":-0.0025},{"s":"N","t":13.4,"d":0.002},{"s":"N","t":13.9,"d":-0.0035},{"s":"N","t":14.4,"d":0.0025},{"s":"N","t":14.9,"d":-0.0018},{"s":"N","t":15.4,"d":0.0018},{"s":"N","t":15.9,"d":-0.0018},{"s":"N","t":16.4,"d":0.0012},{"s":"N","t":16.9,"d":-0.0018},{"s":"N","t":17.4,"d":0.0012},{"s":"N","t":17.9,"d":-0.0012},{"s":"N","t":18.4,"d":0.0008},{"s":"N","t":18.9,"d":-0.0008},{"s":"N","t":19.4,"d":0.0008},{"s":"N","t":19.9,"d":-0.0008},{"s":"N","t":20.5,"d":0.0006},{"s":"N","t":21,"d":-0.001},{"s":"N","t":21.5,"d":0.0006},{"s":"N","t":22,"d":-0.0005},{"s":"N","t":22.5,"d":0.0005},{"s":"N","t":23,"d":-0.0005},{"s":"N","t":23.5,"d":0.0004},{"s":"N","t":24,"d":-0.0004},{"s":"N","t":24.6,"d":0.0004},{"s":"N","t":25.2,"d":-0.0003},{"s":"N","t":25.8,"d":0.0003},{"s":"N","t":26.3,"d":-0.0008},{"s":"N","t":26.8,"d":0.0004},{"s":"N","t":27.4,"d":-0.0004},{"s":"N","t":28,"d":0.0003},{"s":"N","t":28.8,"d":0.001},{"s":"N","t":29.4,"d":-0.0003},{"s":"N","t":30,"d":0},
{"s":"P","t":0,"d":0},{"s":"P","t":0.8,"d":-0.0004},{"s":"P","t":1.5,"d":-0.0003},{"s":"P","t":2,"d":-0.0004},{"s":"P","t":2.3,"d":0.0008},{"s":"P","t":2.6,"d":-0.0005},{"s":"P","t":2.8,"d":0.0004},{"s":"P","t":3,"d":0.001},{"s":"P","t":3.3,"d":-0.0011},{"s":"P","t":3.79,"d":0.024},{"s":"P","t":4.05,"d":-0.0117},{"s":"P","t":4.2,"d":-0.0117},{"s":"P","t":4.28,"d":-0.013},{"s":"P","t":4.41,"d":-0.0256},{"s":"P","t":4.66,"d":-0.0184},{"s":"P","t":4.96,"d":-0.0053},{"s":"P","t":5.07,"d":-0.0053},{"s":"P","t":5.63,"d":0.0203},{"s":"P","t":5.86,"d":0.0168},{"s":"P","t":6.12,"d":-0.0008},{"s":"P","t":6.24,"d":-0.0003},{"s":"P","t":6.61,"d":-0.012},{"s":"P","t":6.99,"d":-0.0056},{"s":"P","t":7.21,"d":-0.0096},{"s":"P","t":7.82,"d":0.0128},{"s":"P","t":8.04,"d":0.0072},{"s":"P","t":8.27,"d":0.01},{"s":"P","t":8.64,"d":-0.0008},{"s":"P","t":8.76,"d":-0.0016},{"s":"P","t":9.06,"d":-0.0144},{"s":"P","t":9.47,"d":0.0024},{"s":"P","t":9.66,"d":0.0008},{"s":"P","t":10,"d":0.008},{"s":"P","t":10.2,"d":0.0104},{"s":"P","t":10.6,"d":0.002},{"s":"P","t":11.15,"d":-0.0075},{"s":"P","t":11.7,"d":-0.001},{"s":"P","t":12.3,"d":0.004},{"s":"P","t":12.95,"d":-0.0016},{"s":"P","t":13.3,"d":0.0002},{"s":"P","t":13.85,"d":-0.0037},{"s":"P","t":14.36,"d":0.0032},{"s":"P","t":14.9,"d":-0.0005},{"s":"P","t":15.5,"d":0.001},{"s":"P","t":15.8,"d":-0.0024},{"s":"P","t":16.4,"d":0.0003},{"s":"P","t":16.7,"d":0.0012},{"s":"P","t":17.4,"d":-0.0016},{"s":"P","t":17.9,"d":0.0008},{"s":"P","t":18.4,"d":-0.0008},{"s":"P","t":18.9,"d":0.001},{"s":"P","t":19.4,"d":-0.0006},{"s":"P","t":19.9,"d":0.0006},{"s":"P","t":20.4,"d":-0.001},{"s":"P","t":20.7,"d":-0.0015},{"s":"P","t":21.2,"d":0.0006},{"s":"P","t":21.7,"d":-0.0005},{"s":"P","t":22.2,"d":0.0006},{"s":"P","t":22.7,"d":-0.0006},{"s":"P","t":23.2,"d":0.0004},{"s":"P","t":23.7,"d":-0.0006},{"s":"P","t":24.2,"d":0.0004},{"s":"P","t":24.7,"d":0.0008},{"s":"P","t":25.2,"d":0.0002},{"s":"P","t":25.7,"d":0.0004},{"s":"P","t":26.3,"d":-0.0012},{"s":"P","t":26.8,"d":0.0008},{"s":"P","t":27.3,"d":0.0005},{"s":"P","t":27.8,"d":-0.0006},{"s":"P","t":28.3,"d":-0.0002},{"s":"P","t":28.8,"d":0.0015},{"s":"P","t":29.3,"d":0},{"s":"P","t":29.7,"d":0.0004},{"s":"P","t":30,"d":-0.0003}
]
},
"columns":2,
"bounds":"flush",
"spacing":{"row":114,"column":125},
"resolve":{"scale":{"color":"independent","strokeDash":"independent"}},
"concat":[
{
"width":463,"height":166,
"data":{"name":"a"},
"title":{"text":"(a)","dx":-15},
"encoding":{
"x":{"field":"t","type":"quantitative","scale":{"domain":[0,60],"nice":false},"axis":{"title":"Time (sec)","values":[0,10,20,30,40,50,60]}},
"y":{"field":"d","type":"quantitative","scale":{"domain":[-0.04,0.04],"nice":false},"axis":{"title":"Drift (m)","values":[-0.04,-0.02,0,0.02],"labelExpr":"datum.value < 0 ? '-' + format(-datum.value, '~g') : format(datum.value, '~g')"}},
"color":{"field":"s","type":"nominal","scale":{"domain":["U","F","B","N","P"],"range":["#2a8fd4","#d4d4d4","#b0b0b0","#8a8a8a","#000000"]},"legend":{"title":null,"orient":"none","legendX":-56,"legendY":-13,"direction":"horizontal","symbolType":"M-3.2,0H12.8","symbolSize":25,"symbolStrokeWidth":1.2,"labelFontSize":16,"labelOffset":30,"columnPadding":6.5,"padding":5,"strokeColor":"#262626","fillColor":"#ffffff","labelColor":"#000000","labelExpr":"datum.label=='U'?'Uncontrolled':datum.label=='F'?'FS-LQR':datum.label=='B'?'BIO-LQR':datum.label=='N'?'ANN':'PSO'"}},
"strokeDash":{"field":"s","type":"nominal","scale":{"domain":["U","F","B","N","P"],"range":[[1.2,2.6],[1,0],[1,0],[1,0],[1,0]]},"legend":{"title":null,"orient":"none","legendX":-56,"legendY":-13,"direction":"horizontal","symbolType":"M-3.2,0H12.8","symbolSize":25,"symbolStrokeWidth":1.2,"labelFontSize":16,"labelOffset":30,"columnPadding":6.5,"padding":5,"strokeColor":"#262626","fillColor":"#ffffff","labelColor":"#000000","labelExpr":"datum.label=='U'?'Uncontrolled':datum.label=='F'?'FS-LQR':datum.label=='B'?'BIO-LQR':datum.label=='N'?'ANN':'PSO'"}}
},
"layer":[
{"transform":[{"filter":"datum.s=='U'"}],"mark":{"type":"line","clip":true,"strokeWidth":1.2}},
{"transform":[{"filter":"datum.s=='F'"}],"mark":{"type":"line","clip":true}},
{"transform":[{"filter":"datum.s=='B'"}],"mark":{"type":"line","clip":true}},
{"transform":[{"filter":"datum.s=='N'"}],"mark":{"type":"line","clip":true}},
{"transform":[{"filter":"datum.s=='P'"}],"mark":{"type":"line","clip":true,"strokeWidth":1.3}}
]
},
{
"width":307,"height":166,
"data":{"name":"a"},
"title":{"text":"(b)","dx":24},
"encoding":{
"x":{"field":"t","type":"quantitative","scale":{"domain":[10,18],"nice":false},"axis":{"title":"Time (sec)","values":[10,12,14,16,18]}},
"y":{"field":"d","type":"quantitative","scale":{"domain":[-0.04,0.04],"nice":false},"axis":{"title":null,"values":[-0.04,-0.02,0,0.02,0.04],"labelExpr":"datum.value < 0 ? '-' + format(-datum.value, '~g') : format(datum.value, '~g')"}},
"color":{"field":"s","type":"nominal","scale":{"domain":["U","F","P"],"range":["#2a8fd4","#c8c8c8","#000000"]},"legend":{"title":null,"orient":"none","legendX":5,"legendY":-6,"direction":"horizontal","symbolType":"M-3,0H12.2","symbolSize":25,"symbolStrokeWidth":1.2,"labelFontSize":15,"labelOffset":27,"columnPadding":8,"padding":5,"strokeColor":"#262626","fillColor":"#ffffff","labelColor":"#000000","labelExpr":"datum.label=='U'?'Uncontrolled':datum.label=='F'?'FS-LQR':'PSO'"}},
"strokeDash":{"field":"s","type":"nominal","scale":{"domain":["U","F","P"],"range":[[1.2,2.6],[1,0],[1,0]]},"legend":{"title":null,"orient":"none","legendX":5,"legendY":-6,"direction":"horizontal","symbolType":"M-3,0H12.2","symbolSize":25,"symbolStrokeWidth":1.2,"labelFontSize":15,"labelOffset":27,"columnPadding":8,"padding":5,"strokeColor":"#262626","fillColor":"#ffffff","labelColor":"#000000","labelExpr":"datum.label=='U'?'Uncontrolled':datum.label=='F'?'FS-LQR':'PSO'"}}
},
"layer":[
{"transform":[{"filter":"datum.s=='U'"}],"mark":{"type":"line","clip":true,"strokeWidth":1.2}},
{"transform":[{"filter":"datum.s=='F'"}],"mark":{"type":"line","clip":true}},
{"transform":[{"filter":"datum.s=='P'"}],"mark":{"type":"line","clip":true,"strokeWidth":1.3}}
]
},
{
"width":445,"height":166,
"data":{"name":"c"},
"title":{"text":"(c)","dx":8},
"encoding":{
"x":{"field":"t","type":"quantitative","scale":{"domain":[0,30],"nice":false},"axis":{"title":"Time (sec)","values":[0,5,10,15,20,25,30]}},
"y":{"field":"d","type":"quantitative","scale":{"domain":[-0.04,0.04],"nice":false},"axis":{"title":"Drift (m)","values":[-0.04,-0.02,0,0.02,0.04],"labelExpr":"datum.value < 0 ? '-' + format(-datum.value, '~g') : format(datum.value, '~g')"}},
"color":{"field":"s","type":"nominal","scale":{"domain":["U","F","B","N","P"],"range":["#2a8fd4","#d4d4d4","#b0b0b0","#8a8a8a","#000000"]},"legend":null},
"strokeDash":{"field":"s","type":"nominal","scale":{"domain":["U","F","B","N","P"],"range":[[1.2,2.6],[1,0],[1,0],[1,0],[1,0]]},"legend":null}
},
"layer":[
{"transform":[{"filter":"datum.s=='U'"}],"mark":{"type":"line","clip":true,"strokeWidth":1.2}},
{"transform":[{"filter":"datum.s=='F'"}],"mark":{"type":"line","clip":true}},
{"transform":[{"filter":"datum.s=='B'"}],"mark":{"type":"line","clip":true}},
{"transform":[{"filter":"datum.s=='N'"}],"mark":{"type":"line","clip":true}},
{"transform":[{"filter":"datum.s=='P'"}],"mark":{"type":"line","clip":true,"strokeWidth":1.3}}
]
},
{
"width":311,"height":166,
"data":{"name":"c"},
"title":{"text":"(d)","dx":6},
"encoding":{
"x":{"field":"t","type":"quantitative","scale":{"domain":[7,15],"nice":false},"axis":{"title":"Time (sec)","values":[8,10,12,14]}},
"y":{"field":"d","type":"quantitative","scale":{"domain":[-0.04,0.04],"nice":false},"axis":{"title":null,"values":[-0.04,-0.02,0,0.02,0.04],"labelExpr":"datum.value < 0 ? '-' + format(-datum.value, '~g') : format(datum.value, '~g')"}},
"color":{"field":"s","type":"nominal","scale":{"domain":["U","F","P"],"range":["#2a8fd4","#c8c8c8","#000000"]},"legend":null},
"strokeDash":{"field":"s","type":"nominal","scale":{"domain":["U","F","P"],"range":[[1.2,2.6],[1,0],[1,0]]},"legend":null}
},
"layer":[
{"transform":[{"filter":"datum.s=='U'"}],"mark":{"type":"line","clip":true,"strokeWidth":1.2}},
{"transform":[{"filter":"datum.s=='F'"}],"mark":{"type":"line","clip":true}},
{"transform":[{"filter":"datum.s=='P'"}],"mark":{"type":"line","clip":true,"strokeWidth":1.3}}
]
},
{
"width":440,"height":166,
"data":{"name":"e"},
"title":{"text":"(e)","dx":-13},
"encoding":{
"x":{"field":"t","type":"quantitative","scale":{"domain":[0,30],"nice":false},"axis":{"title":"Time (sec)","values":[0,5,10,15,20,25,30]}},
"y":{"field":"d","type":"quantitative","scale":{"domain":[-0.04,0.04],"nice":false},"axis":{"title":"Drift (m)","values":[-0.04,-0.02,0,0.02,0.04],"labelExpr":"datum.value < 0 ? '-' + format(-datum.value, '~g') : format(datum.value, '~g')"}},
"color":{"field":"s","type":"nominal","scale":{"domain":["U","F","B","N","P"],"range":["#2a8fd4","#d4d4d4","#b0b0b0","#8a8a8a","#000000"]},"legend":null},
"strokeDash":{"field":"s","type":"nominal","scale":{"domain":["U","F","B","N","P"],"range":[[1.2,2.6],[1,0],[1,0],[1,0],[1,0]]},"legend":null}
},
"layer":[
{"transform":[{"filter":"datum.s=='U'"}],"mark":{"type":"line","clip":true,"strokeWidth":1.2}},
{"transform":[{"filter":"datum.s=='F'"}],"mark":{"type":"line","clip":true}},
{"transform":[{"filter":"datum.s=='B'"}],"mark":{"type":"line","clip":true}},
{"transform":[{"filter":"datum.s=='N'"}],"mark":{"type":"line","clip":true}},
{"transform":[{"filter":"datum.s=='P'"}],"mark":{"type":"line","clip":true,"strokeWidth":1.3}}
]
},
{
"width":310,"height":166,
"data":{"name":"e"},
"title":{"text":"(f)","dx":60},
"encoding":{
"x":{"field":"t","type":"quantitative","scale":{"domain":[3,10],"nice":false},"axis":{"title":"Time (sec)","values":[4,6,8,10]}},
"y":{"field":"d","type":"quantitative","scale":{"domain":[-0.04,0.04],"nice":false},"axis":{"title":null,"values":[-0.04,-0.02,0,0.02,0.04],"labelExpr":"datum.value < 0 ? '-' + format(-datum.value, '~g') : format(datum.value, '~g')"}},
"color":{"field":"s","type":"nominal","scale":{"domain":["U","F","P"],"range":["#2a8fd4","#c8c8c8","#000000"]},"legend":null},
"strokeDash":{"field":"s","type":"nominal","scale":{"domain":["U","F","P"],"range":[[1.2,2.6],[1,0],[1,0]]},"legend":null}
},
"layer":[
{"transform":[{"filter":"datum.s=='U'"}],"mark":{"type":"line","clip":true,"strokeWidth":1.2}},
{"transform":[{"filter":"datum.s=='F'"}],"mark":{"type":"line","clip":true}},
{"transform":[{"filter":"datum.s=='P'"}],"mark":{"type":"line","clip":true,"strokeWidth":1.3}}
]
}
]
}
